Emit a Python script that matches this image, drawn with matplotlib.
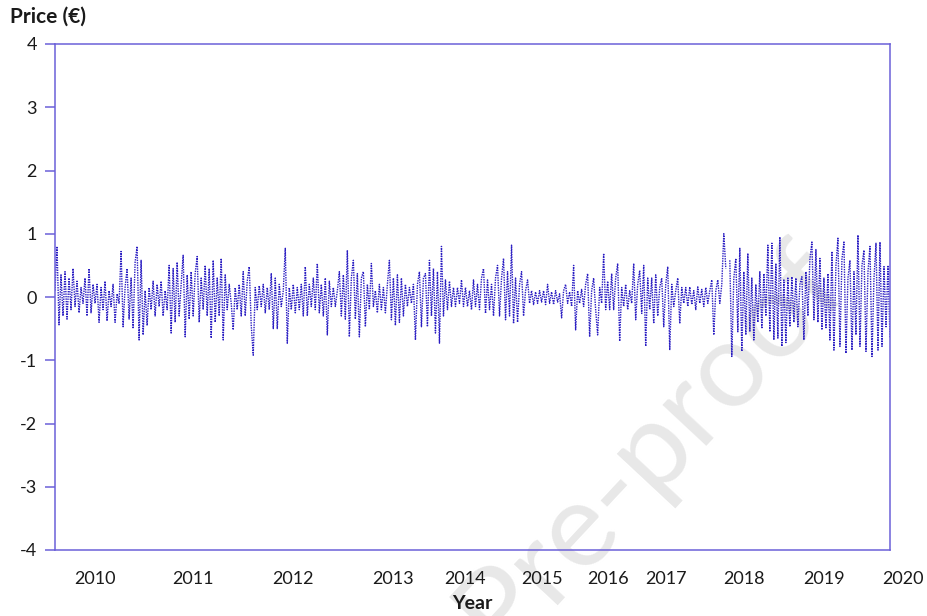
import numpy as np
import matplotlib
matplotlib.use("Agg")
import matplotlib.pyplot as plt

# Price deviations (EUR), in chronological order by period
seg_2009 = [0.1, 0.8, -0.44, 0.35, -0.3, 0.4, -0.35, 0.3, -0.2, 0.45, -0.15, 0.25, -0.25, 0.15, -0.1, 0.3, -0.3, 0.45, -0.25, 0.2]
seg_2010 = [-0.1, 0.2, -0.4, 0.15, -0.2, 0.25, -0.38, 0.1, -0.15, 0.2, -0.4, 0.05, -0.1, 0.72, -0.47, 0.15, 0.45, -0.35, 0.3, -0.5,
            0.55, 0.8, -0.68, 0.58, -0.6, 0.1, -0.45, 0.15, -0.2, 0.25, -0.3, 0.2, -0.15, 0.25, -0.3, 0.1, -0.2, 0.5, -0.57, 0.45,
            -0.4, 0.55, -0.3, 0.2, 0.66, -0.63, 0.35, -0.35, 0.4]
seg_2011 = [-0.3, 0.37, 0.64, -0.4, 0.3, -0.2, 0.5, -0.3, 0.45, -0.65, 0.58, -0.4, 0.3, -0.3, 0.61, -0.68, 0.35, -0.2, 0.2, -0.1,
            -0.52, 0.15, -0.2, 0.2, -0.3, 0.4, -0.3, 0.25, 0.48, -0.45, -0.92, 0.15, -0.2, 0.18, -0.15, 0.2, -0.25, 0.15, -0.2, 0.37,
            -0.5, 0.3, -0.5, 0.2, -0.15, 0.1, 0.77, -0.73, 0.15, -0.2]
seg_2012 = [0.2, -0.25, 0.15, -0.2, 0.2, -0.3, 0.48, -0.3, 0.2, -0.15, 0.3, -0.2, 0.53, -0.25, 0.2, -0.3, 0.3, -0.6, 0.25, -0.15,
            0.15, -0.15, 0.1, 0.4, -0.3, 0.35, -0.35, 0.74, -0.63, 0.3, 0.58, -0.35, 0.37, -0.63, 0.3, 0.4, -0.47, 0.2, -0.2, 0.53,
            -0.15, 0.1, -0.25, 0.2, -0.2, 0.15, -0.25, 0.2, 0.58, -0.36]
seg_2013 = [0.3, -0.45, 0.35, -0.4, 0.3, -0.3, 0.2, -0.15, 0.15, -0.1, 0.2, -0.68, 0.2, 0.4, -0.47, 0.3, 0.37, -0.47, 0.58, -0.3,
            0.45, -0.57, 0.4, -0.73, 0.8, -0.3, 0.27, -0.2, 0.25, -0.15, 0.15, -0.15, 0.15, -0.1, 0.27, -0.15]
seg_2014 = [0.15, -0.15, 0.1, -0.2, 0.27, -0.15, 0.2, -0.2, 0.3, 0.45, -0.26, 0.27, -0.2, 0.2, -0.3, 0.3, 0.5, -0.3, 0.3, 0.61,
            -0.36, 0.4, -0.3, 0.82, -0.42, 0.3, -0.4, 0.2, 0.4, -0.3, 0.1, 0.27, -0.1, 0.1, -0.12, 0.08, -0.1, 0.1]
seg_2015 = [-0.08, 0.1, -0.12, 0.2, -0.1, 0.08, -0.12, 0.1, -0.08, 0.05, -0.33, 0.1, 0.2, -0.1, 0.08, -0.15, 0.5, -0.52, 0.1, -0.1,
            0.12, -0.15, 0.2, 0.37, -0.63, 0.1, 0.3, -0.2, -0.6, 0.15, -0.1, 0.69, -0.2]
seg_2016 = [0.25, -0.2, 0.37, -0.2, 0.3, 0.53, -0.7, 0.15, -0.15, 0.2, -0.2, 0.1, -0.1, 0.53, -0.36, 0.2, 0.42, -0.26, 0.5, -0.78,
            0.3, -0.2, 0.3, -0.42, 0.35, -0.3, 0.15, 0.3, -0.47]
seg_2017 = [0.2, 0.48, -0.84, 0.2, -0.15, 0.1, 0.3, -0.42, 0.15, -0.1, 0.15, -0.15, 0.16, -0.12, 0.1, -0.2, 0.16, -0.1, 0.12, -0.15,
            0.15, -0.1, 0.1, 0.27, -0.6, 0.1, 0.27, -0.1, 0.2, 1.0, 0.45, np.nan, 0.58, -0.94, 0.3, 0.61, -0.55, 0.77, -0.86]
seg_2018 = [0.4, -0.6, 0.69, -0.55, 0.3, -0.68, 0.2, -0.4, 0.4, -0.5, 0.37, -0.3, 0.82, -0.55, 0.85, -0.68, 0.53, -0.65, 0.95, -0.78,
            0.27, -0.72, 0.3, -0.47, 0.32, -0.4, 0.3, -0.47, 0.2, 0.32, -0.68, 0.4, -0.3, 0.6, 0.87, -0.36, 0.75, -0.4, 0.61, -0.52]
seg_2019 = [0.3, -0.5, 0.37, -0.68, 0.72, -0.84, 0.5, 0.93, -0.78, 0.6, 0.87, -0.89, 0.3, 0.58, -0.84, 0.4, -0.6, 0.98, -0.78, 0.5,
            0.74, -0.86, 0.4, 0.8, -0.94, 0.3, 0.85, -0.84, 0.87, -0.78, 0.48, -0.47, 0.5, -0.65]

segments = [seg_2009, seg_2010, seg_2011, seg_2012, seg_2013, seg_2014,
            seg_2015, seg_2016, seg_2017, seg_2018, seg_2019]
year_labels = ["2010", "2011", "2012", "2013", "2014", "2015",
               "2016", "2017", "2018", "2019"]
last_label = "2020"
y_ticks = [-4, -3, -2, -1, 0, 1, 2, 3, 4]

price = np.concatenate([np.array(s, dtype=float) for s in segments])
obs = np.arange(len(price))
# year labels sit at the first observation of each segment after the first
starts = np.cumsum([len(s) for s in segments])[:-1]

plt.rcParams["font.family"] = ["Lato", "DejaVu Sans"]

axis_col = "#6b60d8"
line_col = "#2a1dc2"
text_col = "#1a1a1a"
tick_fs = 13
xpad = 15

fig = plt.figure(figsize=(9.28, 6.16), dpi=100)
ax = fig.add_axes([55 / 928, 1 - 550 / 616, (890 - 55) / 928, (550 - 44) / 616])
ax.set_zorder(1)
ax.patch.set_alpha(0)

# watermark, behind everything
fig.text(500 / 928, 1 - 655 / 616, "Pre-proof", fontsize=86, color="#e8e8e8",
         rotation=47, rotation_mode="anchor", ha="left", va="baseline", zorder=0)

ax.plot(obs, price, linestyle=(0, (1, 0.8)), color=line_col, linewidth=1.0)

ax.set_xlim(0, len(price) - 1)
ax.set_ylim(-4, 4)
ax.set_yticks(y_ticks)
ax.set_yticklabels([str(v) for v in y_ticks])
ax.set_xticks(starts)
ax.set_xticklabels(year_labels)

step = (len(price) - 1) / 835.0
ax.annotate(last_label, xy=(len(price) - 1 + 13 * step, 0),
            xycoords=("data", "axes fraction"),
            xytext=(0, -xpad), textcoords="offset points",
            ha="center", va="top", fontsize=tick_fs, color=text_col,
            annotation_clip=False)

for sp in ax.spines.values():
    sp.set_color(axis_col)
    sp.set_linewidth(1.1)
ax.tick_params(axis="y", direction="out", length=7, width=1.1, color=axis_col,
               labelsize=tick_fs, labelcolor=text_col, pad=6)
ax.tick_params(axis="x", length=0, labelsize=tick_fs, labelcolor=text_col, pad=xpad)

ax.set_xlabel("Year", fontsize=14, fontweight="bold", labelpad=6, color=text_col)
fig.text(10 / 928, 1 - 17 / 616, "Price (€)", fontsize=15, fontweight="bold",
         ha="left", va="center", color=text_col)

fig.savefig("out.png", dpi=100)
